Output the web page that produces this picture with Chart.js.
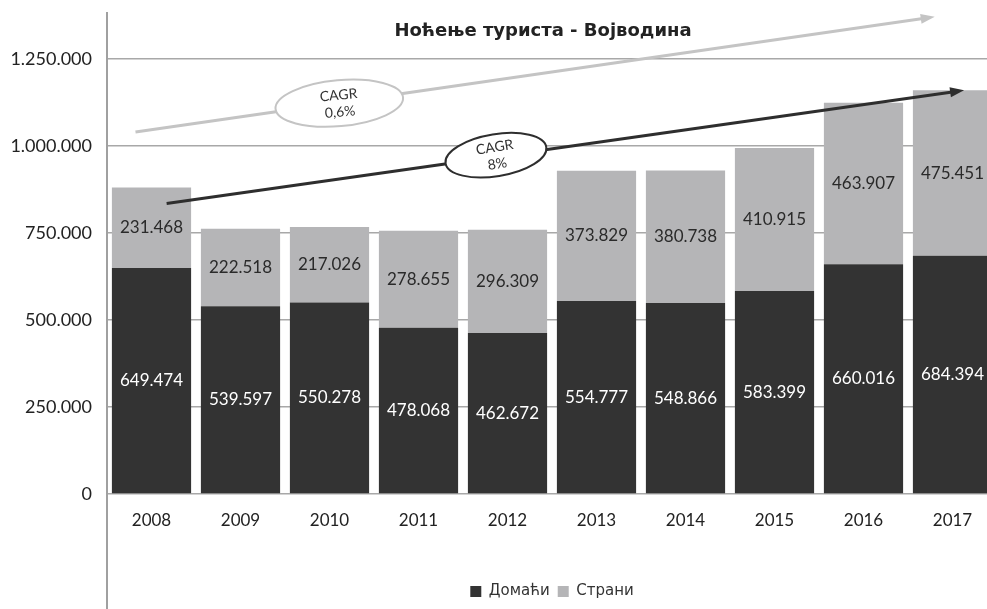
<!DOCTYPE html>
<html>
<head>
<meta charset="utf-8">
<script src="https://cdn.jsdelivr.net/npm/chart.js@4/dist/chart.umd.min.js"></script>
<style>
  html, body { margin: 0; padding: 0; background: #fff; overflow: hidden; }
  #wrap { width: 1000px; height: 609px; }
</style>
</head>
<body>
<div id="wrap"><canvas id="chart_dest"></canvas></div>
<script>
// dataset
var years = ["2008", "2009", "2010", "2011", "2012", "2013", "2014", "2015", "2016", "2017"];
var domestic = [649474, 539597, 550278, 478068, 462672, 554777, 548866, 583399, 660016, 684394];
var foreign = [231468, 222518, 217026, 278655, 296309, 373829, 380738, 410915, 463907, 475451];
var yTicks = [0, 250000, 500000, 750000, 1000000, 1250000];

// trend arrows (category index, value) and their CAGR notes
var cagrText = [["CAGR", "0,6%"], ["CAGR", "8%"]];
var arrowFrom = [[-0.18, 1040000], [0.17, 835000]];
var arrowTo = [[8.8, 1371000], [9.13, 1160000]];
var ovalAt = [[2.11, 1123000], [3.87, 973500]];

function fmt(v) {
  return String(v).replace(/\B(?=(\d{3})+(?!\d))/g, ".");
}

var overlay = {
  id: "overlay",
  afterDatasetsDraw: function (chart) {
    var ctx = chart.ctx, xs = chart.scales.x, ys = chart.scales.y, a = chart.chartArea;
    ctx.save();

    // value labels
    ctx.font = "17px Lato";
    ctx.textAlign = "center";
    ctx.textBaseline = "middle";
    chart.data.datasets.forEach(function (ds, i) {
      chart.getDatasetMeta(i).data.forEach(function (bar, j) {
        var p = bar.getCenterPoint();
        ctx.fillStyle = i === 0 ? "#ffffff" : "#2a2a2a";
        ctx.fillText(fmt(ds.data[j]), p.x, p.y);
      });
    });

    // title
    ctx.font = "bold 18px 'DejaVu Sans'";
    ctx.fillStyle = "#222";
    ctx.fillText("Ноћење туриста - Војводина", (a.left + a.right) / 2 - 9, 31);

    // arrows
    var colors = ["#c4c4c4", "#2e2e2e"];
    var ovals = [[64, 23, -0.09], [51, 21, -0.16]];
    for (var k = 0; k < 2; k++) {
      var x1 = xs.getPixelForValue(arrowFrom[k][0]), y1 = ys.getPixelForValue(arrowFrom[k][1]);
      var x2 = xs.getPixelForValue(arrowTo[k][0]), y2 = ys.getPixelForValue(arrowTo[k][1]);
      var ang = Math.atan2(y2 - y1, x2 - x1);
      ctx.strokeStyle = colors[k];
      ctx.fillStyle = colors[k];
      ctx.lineWidth = 3;
      ctx.beginPath();
      ctx.moveTo(x1, y1);
      ctx.lineTo(x2 - 10 * Math.cos(ang), y2 - 10 * Math.sin(ang));
      ctx.stroke();
      ctx.beginPath();
      ctx.moveTo(x2, y2);
      ctx.lineTo(x2 - 14 * Math.cos(ang) + 5 * Math.sin(ang), y2 - 14 * Math.sin(ang) - 5 * Math.cos(ang));
      ctx.lineTo(x2 - 14 * Math.cos(ang) - 5 * Math.sin(ang), y2 - 14 * Math.sin(ang) + 5 * Math.cos(ang));
      ctx.closePath();
      ctx.fill();

      var cx = xs.getPixelForValue(ovalAt[k][0]), cy = ys.getPixelForValue(ovalAt[k][1]);
      ctx.save();
      ctx.translate(cx, cy);
      ctx.rotate(ovals[k][2]);
      ctx.beginPath();
      ctx.ellipse(0, 0, ovals[k][0], ovals[k][1], 0, 0, Math.PI * 2);
      ctx.fillStyle = "#fff";
      ctx.fill();
      ctx.lineWidth = 2;
      ctx.stroke();
      ctx.fillStyle = "#333";
      ctx.font = "14px Lato";
      ctx.fillText(cagrText[k][0], 0, -8);
      ctx.fillText(cagrText[k][1], 0, 9);
      ctx.restore();
    }

    // long left axis line
    ctx.strokeStyle = "#a0a0a0";
    ctx.lineWidth = 2;
    ctx.beginPath();
    ctx.moveTo(a.left, a.top);
    ctx.lineTo(a.left, chart.height);
    ctx.stroke();
    ctx.restore();
  }
};

var ctx = document.getElementById("chart_dest");

var myChart = new Chart(ctx, {
  type: "bar",
  data: {
    labels: years,
    datasets: [
      { label: "Домаћи", data: domestic, backgroundColor: "#333333", barPercentage: 0.89, categoryPercentage: 1 },
      { label: "Страни", data: foreign, backgroundColor: "#b5b5b7", barPercentage: 0.89, categoryPercentage: 1 }
    ]
  },
  options: {
    responsive: true,
    maintainAspectRatio: false,
    animation: false,
    layout: { padding: { top: 12, left: 0, right: 3, bottom: 0 } },
    plugins: {
      title: { display: false },
      tooltip: { enabled: false },
      legend: {
        position: "bottom",
        fullSize: false,
        labels: {
          boxWidth: 11,
          boxHeight: 11,
          padding: 8,
          color: "#333",
          font: { family: "'DejaVu Sans'", size: 15 }
        }
      }
    },
    scales: {
      x: {
        stacked: true,
        grid: { display: false },
        border: { display: false },
        ticks: { color: "#222", padding: 8, font: { family: "Lato", size: 17 } },
        afterFit: function (s) { s.height = 82; }
      },
      y: {
        stacked: true,
        min: 0,
        max: 1385000,
        afterBuildTicks: function (s) {
          s.ticks = yTicks.map(function (v) { return { value: v }; });
        },
        afterFit: function (s) { s.width = 107; s.paddingTop = 0; s.paddingBottom = 0; },
        grid: { color: "#a8a8a8", lineWidth: 1.5, drawTicks: false },
        border: { display: false },
        ticks: {
          color: "#222",
          padding: 15,
          font: { family: "Lato", size: 18 },
          callback: function (v) { return fmt(v); }
        }
      }
    }
  },
  plugins: [overlay]
});
</script>
</body>
</html>
